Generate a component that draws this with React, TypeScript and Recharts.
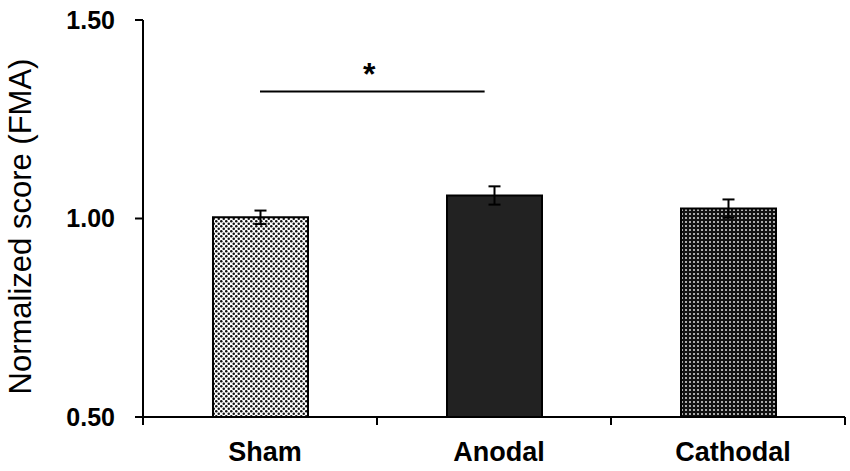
import { BarChart, Bar, XAxis, YAxis, ErrorBar, Cell, ReferenceLine } from "recharts";

const categories = ["Sham", "Anodal", "Cathodal"];
const means = [1.003, 1.058, 1.025];
const errors = [0.017, 0.023, 0.023];
const fills = ["url(#dotsLight)", "#222222", "url(#dotsDark)"];
const yTicks = [0.5, 1.0, 1.5];
// significance bracket between Sham and Anodal (on a 0..3 helper scale)
const sigSpan = [0.5, 1.46];
const sigLevel = 1.32;
const sigMark = "*";

const W = 850;
const H = 471;
const LEFT = 143;
const RIGHT = 5;
const BAND = (W - LEFT - RIGHT) / categories.length;
const FONT = "'Liberation Sans', Arial, sans-serif";

const data = categories.map((name, i) => ({ name, pos: i + 0.5, value: means[i], err: errors[i] }));

function CategoryTick(props: any) {
  const { x, y, payload, index } = props;
  const last = index === categories.length - 1;
  return (
    <g>
      <line x1={x - BAND / 2} y1={y} x2={x - BAND / 2} y2={y + 8} stroke="#000" strokeWidth={2} />
      {last && <line x1={x + BAND / 2} y1={y} x2={x + BAND / 2} y2={y + 8} stroke="#000" strokeWidth={2} />}
      <text x={x + 5} y={y + 44} textAnchor="middle" fontFamily={FONT} fontSize={27} fontWeight="bold" fill="#000">
        {payload.value}
      </text>
    </g>
  );
}

export default function App() {
  return (
    <div style={{ position: "absolute", left: 0, top: 0, background: "#fff" }}>
      <svg width={0} height={0} style={{ position: "absolute" }}>
        <defs>
          <pattern id="dotsLight" width={5} height={5} patternUnits="userSpaceOnUse">
            <rect width={5} height={5} fill="#fff" />
            <circle cx={1.25} cy={1.25} r={1.25} fill="#111" />
            <circle cx={3.75} cy={3.75} r={1.25} fill="#111" />
          </pattern>
          <pattern id="dotsDark" width={4} height={4} patternUnits="userSpaceOnUse">
            <rect width={4} height={4} fill="#111" />
            <rect x={1.2} y={1.2} width={1.6} height={1.6} fill="#fff" />
          </pattern>
        </defs>
      </svg>
      <BarChart width={W} height={H} data={data} margin={{ top: 20, right: RIGHT, bottom: 0, left: 0 }}>
        <XAxis
          xAxisId="cat"
          dataKey="name"
          height={54}
          tickSize={0}
          tickMargin={0}
          tickLine={false}
          axisLine={{ stroke: "#000", strokeWidth: 2 }}
          tick={<CategoryTick />}
        />
        <XAxis
          xAxisId="num"
          dataKey="pos"
          type="number"
          scale="linear"
          domain={[0, 3]}
          allowDataOverflow
          padding={{ left: 0, right: 0 }}
          hide
        />
        <YAxis
          width={LEFT}
          domain={[0.5, 1.5]}
          ticks={yTicks}
          tickFormatter={(v: number) => v.toFixed(2)}
          tickSize={8}
          tickMargin={20}
          axisLine={{ stroke: "#000", strokeWidth: 2 }}
          tickLine={{ stroke: "#000", strokeWidth: 2 }}
          tick={{ fill: "#000", fontSize: 25, fontWeight: "bold", fontFamily: FONT }}
          label={(p: any) => {
            const vb = p.viewBox;
            const cy = vb.y + vb.height / 2 + 8;
            return (
              <text
                x={31}
                y={cy}
                transform={`rotate(-90, 31, ${cy})`}
                textAnchor="middle"
                fontFamily={FONT}
                fontSize={31}
                fill="#000"
              >
                Normalized score (FMA)
              </text>
            );
          }}
        />
        <Bar xAxisId="cat" dataKey="value" barSize={95} stroke="#000" strokeWidth={2} isAnimationActive={false}>
          {data.map((d, i) => (
            <Cell key={d.name} fill={fills[i]} />
          ))}
          <ErrorBar dataKey="err" width={6} stroke="#000" strokeWidth={2} />
        </Bar>
        <ReferenceLine
          xAxisId="num"
          segment={[
            { x: sigSpan[0], y: sigLevel },
            { x: sigSpan[1], y: sigLevel },
          ]}
          stroke="#000"
          strokeWidth={2}
          label={(p: any) => {
            const vb = p.viewBox;
            const cx = vb.x + vb.width / 2;
            return (
              <text x={cx - 3} y={vb.y - 6} textAnchor="middle" fontFamily={FONT} fontSize={32} fontWeight="bold" fill="#000">
                {sigMark}
              </text>
            );
          }}
        />
      </BarChart>
    </div>
  );
}
